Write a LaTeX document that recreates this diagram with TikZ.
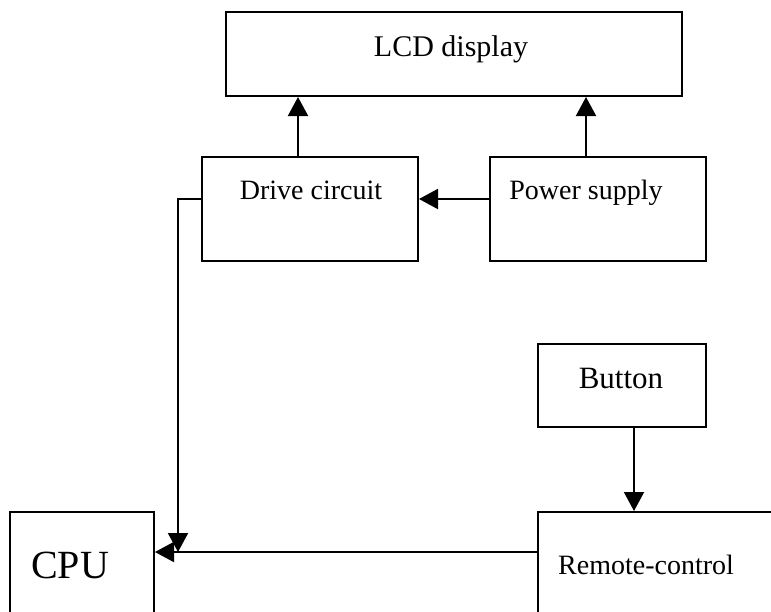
\documentclass[tikz,border=0pt]{standalone}
\usepackage{fontspec}
\setmainfont{Liberation Serif}
\usetikzlibrary{arrows.meta}

\begin{document}
\begin{tikzpicture}[
        x=0.5pt, y=-0.5pt,
        block/.style={draw, line width=1pt, inner sep=0pt},
        caption/.style={anchor=base, inner sep=0pt, font=\fontsize{14}{16}\selectfont},
        link/.style={draw, line width=1pt, -{Triangle[length=9.5pt,width=10pt]}}
    ]
    \useasboundingbox (0,0) rectangle (771,611);
    \clip (0,0) rectangle (771,611);
    \node[block, minimum width=228pt, minimum height=42pt] (lcd) at (454,54) {};
    \node[block, minimum width=108pt, minimum height=52pt] (drive) at (310,209) {};
    \node[block, minimum width=108pt, minimum height=52pt] (power) at (598,209) {};
    \node[block, minimum width=84pt, minimum height=41.5pt] (button) at (622,385.5) {};
    \node[block, minimum width=72pt, minimum height=54pt] (cpu) at (82,566) {};
    \node[block, minimum width=126pt, minimum height=54pt] (remote) at (664,566) {};
    \node[caption, font=\fontsize{15}{17}\selectfont] (lcdtext) at (451,56) {LCD display};
    \node[caption] (drivetext) at (311,199) {Drive circuit};
    \node[caption] (powertext) at (586,199) {Power supply};
    \node[caption, font=\fontsize{15.5}{17}\selectfont] (buttontext) at (621,388) {Button};
    \node[caption, font=\fontsize{20}{22}\selectfont] (cputext) at (70,578) {CPU};
    \node[caption] (remotetext) at (646,574) {Remote-control};
    \coordinate (meet) at (178,552);
    \path[link] ([xshift=-6pt]drive.north) -- ([xshift=-6pt]drive.north |- lcd.south);
    \path[link] ([xshift=-6pt]power.north) -- ([xshift=-6pt]power.north |- lcd.south);
    \path[link] ([yshift=5pt]power.west) -- ([yshift=5pt]power.west -| drive.east);
    \path[link] ([yshift=5pt]drive.west) -| (meet);
    \path[link] ([yshift=7pt]remote.west) -- ([yshift=7pt]remote.west -| cpu.east);
    \path[link] ([xshift=6pt]button.south) -- ([xshift=6pt]button.south |- remote.north);
\end{tikzpicture}
\end{document}
